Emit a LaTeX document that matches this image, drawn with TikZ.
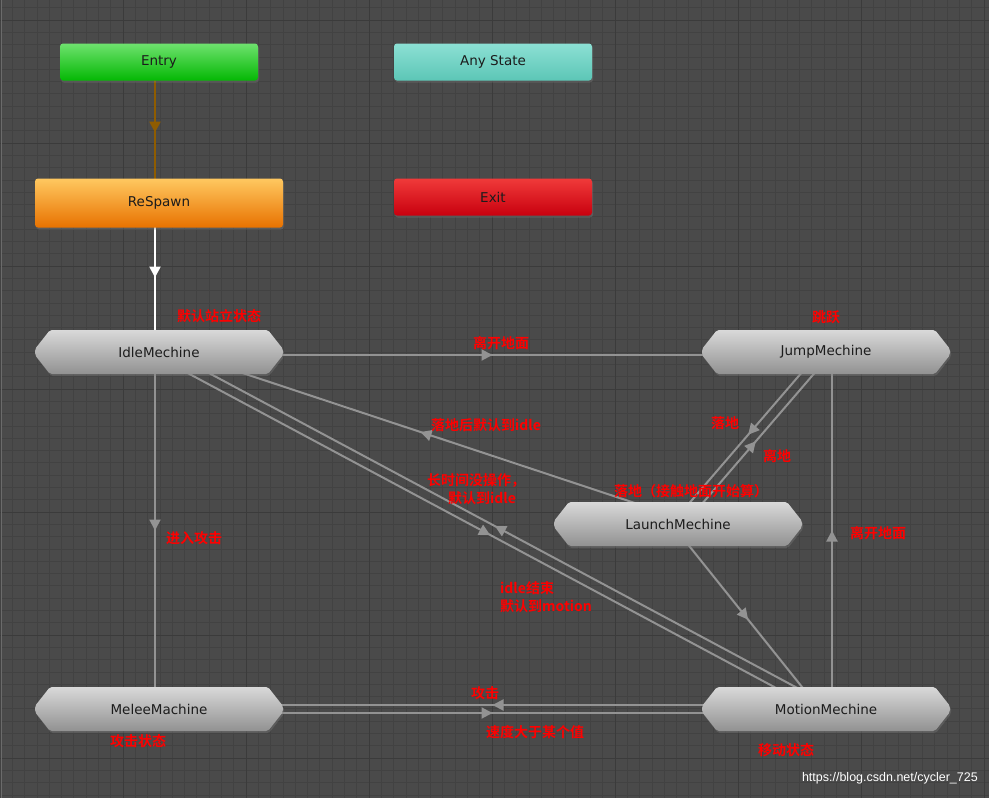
\documentclass[tikz,border=0pt]{standalone}
\usepackage{fontspec}
\setmainfont{DejaVu Sans}
\newfontfamily\cjk{Noto Sans CJK SC}[BoldFont={Noto Sans CJK SC Bold}]
\newfontfamily\wmfont{Liberation Sans}
\usetikzlibrary{arrows.meta,decorations.markings,shadows,calc}
\pgfdeclarelayer{gridlayer}
\pgfdeclarelayer{edgelayer}
\pgfsetlayers{gridlayer,edgelayer,main}
\definecolor{bgc}{HTML}{4A4A4A}
\definecolor{finec}{HTML}{424242}
\definecolor{majorc}{HTML}{3B3B3B}
\definecolor{tcol}{HTML}{939393}
\definecolor{browncol}{HTML}{8F5C00}
\definecolor{txtc}{HTML}{1C1C1C}
\newcommand\hexstate[4]{%
  \shade[hexshade] (#2-124,#3-3) -- (#2-109,#3-22) -- (#2+109,#3-22) -- (#2+124,#3-3)
    -- (#2+124,#3+3) -- (#2+109,#3+22) -- (#2-109,#3+22) -- (#2-124,#3+3) -- cycle;
  \node[hextext] (#1) at (#2,#3) {#4};}
\begin{document}
\begin{tikzpicture}[x=1pt,y=-1pt,
  hexshade/.style={top color=white!85!black, bottom color=white!57!black, rounded corners=2pt,
    drop shadow={shadow xshift=1pt,shadow yshift=-2pt,opacity=0.35}},
  hextext/.style={inner sep=0pt, minimum width=248pt, minimum height=44pt, text=txtc,
    font=\fontsize{13.5}{15}\selectfont},
  boxstate/.style={rounded corners=3pt, inner sep=0pt, text=txtc, minimum height=37pt,
    minimum width=198pt, font=\fontsize{13.5}{15}\selectfont,
    drop shadow={shadow xshift=1pt,shadow yshift=-2pt,opacity=0.35}},
  fineline/.style={draw=finec, line width=0.8pt},
  majorline/.style={draw=majorc, line width=1pt},
  midarrow/.style={postaction={decorate}, decoration={markings,
    mark=at position 0.5 with {\arrow{Triangle[length=11pt,width=11pt]}}}},
  trans/.style={color=tcol, line width=2pt, midarrow},
  lab/.style={text=red, inner sep=0pt, font=\cjk\bfseries\fontsize{14}{16}\selectfont}
]
\useasboundingbox (0,0) rectangle (989,798);
\begin{pgfonlayer}{gridlayer}
  \fill[bgc] (0,0) rectangle (989,798);
  \foreach \i in {0,...,81} \draw[fineline] ({\i*12.3},0) -- ({\i*12.3},798);
  \foreach \j in {0,...,65} \draw[fineline] (0,{7.7+\j*12.3}) -- (989,{7.7+\j*12.3});
  \foreach \i in {1,...,8} \draw[majorline] ({\i*123},0) -- ({\i*123},798);
  \foreach \j in {0,...,6} \draw[majorline] (0,{20+\j*123}) -- (989,{20+\j*123});
  \draw[white!42!black, line width=1.5pt] (1.5,0) -- (1.5,798);
\end{pgfonlayer}

% states
\node[boxstate, top color={rgb,255:red,110;green,226;blue,110}, bottom color={rgb,255:red,4;green,184;blue,4}] (entry) at (159,62) {Entry};
\node[boxstate, top color={rgb,255:red,140;green,224;blue,212}, bottom color={rgb,255:red,92;green,198;blue,182}] (anystate) at (493,62) {Any State};
\node[boxstate, minimum width=248pt, minimum height=49pt, top color={rgb,255:red,255;green,200;blue,96}, bottom color={rgb,255:red,232;green,114;blue,0}] (respawn) at (159,203) {ReSpawn};
\node[boxstate, top color={rgb,255:red,240;green,58;blue,58}, bottom color={rgb,255:red,200;green,0;blue,14}] (exit) at (493,197) {Exit};
\hexstate{idle}{159}{352}{IdleMechine}
\hexstate{jump}{826}{352}{JumpMechine}
\hexstate{launch}{678}{524}{LaunchMechine}
\hexstate{melee}{159}{709}{MeleeMachine}
\hexstate{motion}{826}{709}{MotionMechine}

\begin{pgfonlayer}{edgelayer}
  \draw[color=browncol, line width=2.5pt, midarrow] ([shift={(-4,0)}]entry.center) -- ([shift={(-4,0)}]respawn.center);
  \draw[color=white, line width=2.5pt, midarrow] ([shift={(-4,0)}]respawn.center) -- ([shift={(-4,0)}]idle.center);
  \draw[trans] ([shift={(0,3)}]idle.center) -- ([shift={(0,3)}]jump.center);
  \draw[trans] ([shift={(-4,0)}]idle.center) -- ([shift={(-4,0)}]melee.center);
  \draw[trans] ([shift={(6,0)}]motion.center) -- ([shift={(6,0)}]jump.center);
  \draw[trans] ([shift={(0,4)}]melee.center) -- ([shift={(0,4)}]motion.center);
  \draw[trans] ([shift={(0,-4)}]motion.center) -- ([shift={(0,-4)}]melee.center);
  \draw[trans] ([shift={(-3.8,-3.3)}]jump.center) -- ([shift={(-3.8,-3.3)}]launch.center);
  \draw[trans] ([shift={(3.8,3.3)}]launch.center) -- ([shift={(3.8,3.3)}]jump.center);
  \draw[trans] ([shift={(2,-6)}]launch.center) -- ([shift={(2,-6)}]idle.center);
  \draw[trans] ([shift={(-3.9,3.1)}]launch.center) -- ([shift={(-3.9,3.1)}]motion.center);
  \draw[trans] ([shift={(-2.4,4.4)}]idle.center) -- ([shift={(-2.4,4.4)}]motion.center);
  \draw[trans] ([shift={(2.4,-4.4)}]motion.center) -- ([shift={(2.4,-4.4)}]idle.center);
\end{pgfonlayer}

% labels
\node[lab] (l1) at (219,316) {默认站立状态};
\node[lab] (l2) at (826,317) {跳跃};
\node[lab] (l3) at (501,343) {离开地面};
\node[lab] (l4) at (486,425) {落地后默认到idle};
\node[lab, anchor=west] (l5) at (427,481) {长时间没操作，};
\node[lab, anchor=west] (l6) at (448,498) {默认到idle};
\node[lab] (l7) at (725,423) {落地};
\node[lab] (l8) at (777,456) {离地};
\node[lab, anchor=west] (l9) at (614,491) {落地（接触地面开始算）};
\node[lab] (l10) at (194,538) {进入攻击};
\node[lab, anchor=west] (l11) at (500,588) {idle结束};
\node[lab, anchor=west] (l12) at (500,606) {默认到motion};
\node[lab] (l13) at (878,533) {离开地面};
\node[lab] (l14) at (485,693) {攻击};
\node[lab] (l15) at (535,732) {速度大于某个值};
\node[lab] (l16) at (138,741) {攻击状态};
\node[lab] (l17) at (786,750) {移动状态};
\node[anchor=east, inner sep=0pt, text=white, font=\wmfont\fontsize{12.5}{14}\selectfont] (wm) at (978,778) {https://blog.csdn.net/cycler\_725};
\end{tikzpicture}
\end{document}
